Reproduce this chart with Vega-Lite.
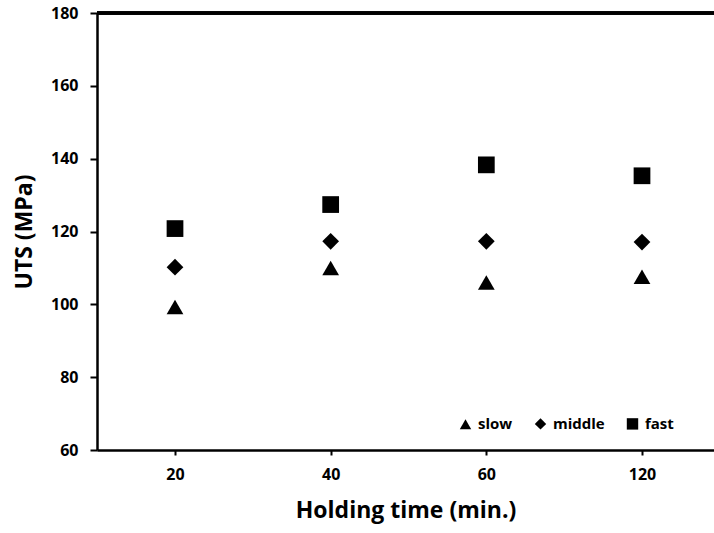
{
  "$schema": "https://vega.github.io/schema/vega-lite/v6.json",
  "autosize": "none",
  "width": 617,
  "height": 437,
  "padding": {"left": 97, "top": 13, "right": 0, "bottom": 83},
  "background": "white",
  "config": {
    "view": {"stroke": null},
    "font": "Open Sans",
    "axis": {
      "grid": false,
      "domainColor": "black",
      "domainWidth": 2.5,
      "tickColor": "black",
      "tickWidth": 2,
      "labelFont": "Open Sans",
      "labelFontWeight": "bold",
      "labelFontSize": 16,
      "labelColor": "black",
      "titleFont": "Open Sans",
      "titleFontWeight": "bold",
      "titleColor": "black",
      "titleFontSize": 23
    }
  },
  "data": {
    "values": [
      {"time": "20", "series": "slow", "uts": 99.3},
      {"time": "20", "series": "middle", "uts": 110.2},
      {"time": "20", "series": "fast", "uts": 120.8},
      {"time": "40", "series": "slow", "uts": 110.0},
      {"time": "40", "series": "middle", "uts": 117.3},
      {"time": "40", "series": "fast", "uts": 127.4},
      {"time": "60", "series": "slow", "uts": 106.0},
      {"time": "60", "series": "middle", "uts": 117.3},
      {"time": "60", "series": "fast", "uts": 138.3},
      {"time": "120", "series": "slow", "uts": 107.6},
      {"time": "120", "series": "middle", "uts": 117.1},
      {"time": "120", "series": "fast", "uts": 135.3}
    ]
  },
  "layer": [
    {
      "mark": {"type": "rule", "color": "black", "strokeWidth": 2.5},
      "encoding": {"y": {"datum": 180, "type": "quantitative"}}
    },
    {
      "mark": {"type": "point", "filled": true, "opacity": 1, "color": "black", "size": 280},
      "encoding": {
        "x": {
          "field": "time",
          "type": "ordinal",
          "sort": ["20", "40", "60", "120"],
          "scale": {"type": "point", "padding": 0.4818, "align": 0.52},
          "axis": {
            "title": "Holding time (min.)",
            "labelAngle": 0,
            "tickSize": 5,
            "labelPadding": 11,
            "titlePadding": 17
          }
        },
        "y": {
          "field": "uts",
          "type": "quantitative",
          "scale": {"domain": [60, 180], "nice": false, "zero": false},
          "axis": {
            "title": "UTS (MPa)",
            "values": [60, 80, 100, 120, 140, 160, 180],
            "tickSize": 7,
            "labelPadding": 12,
            "titlePadding": 14
          }
        },
        "shape": {
          "field": "series",
          "type": "nominal",
          "scale": {"domain": ["slow", "middle", "fast"], "range": ["triangle-up", "diamond", "square"]},
          "legend": {
            "title": null,
            "orient": "none",
            "direction": "horizontal",
            "legendX": 361,
            "legendY": 403,
            "symbolSize": 130,
            "symbolFillColor": "black",
            "symbolStrokeColor": "black",
            "labelFont": "Open Sans",
            "labelFontWeight": "bold",
            "labelFontSize": 15,
            "labelColor": "black",
            "columnPadding": 18,
            "labelOffset": 5
          }
        }
      }
    }
  ]
}
